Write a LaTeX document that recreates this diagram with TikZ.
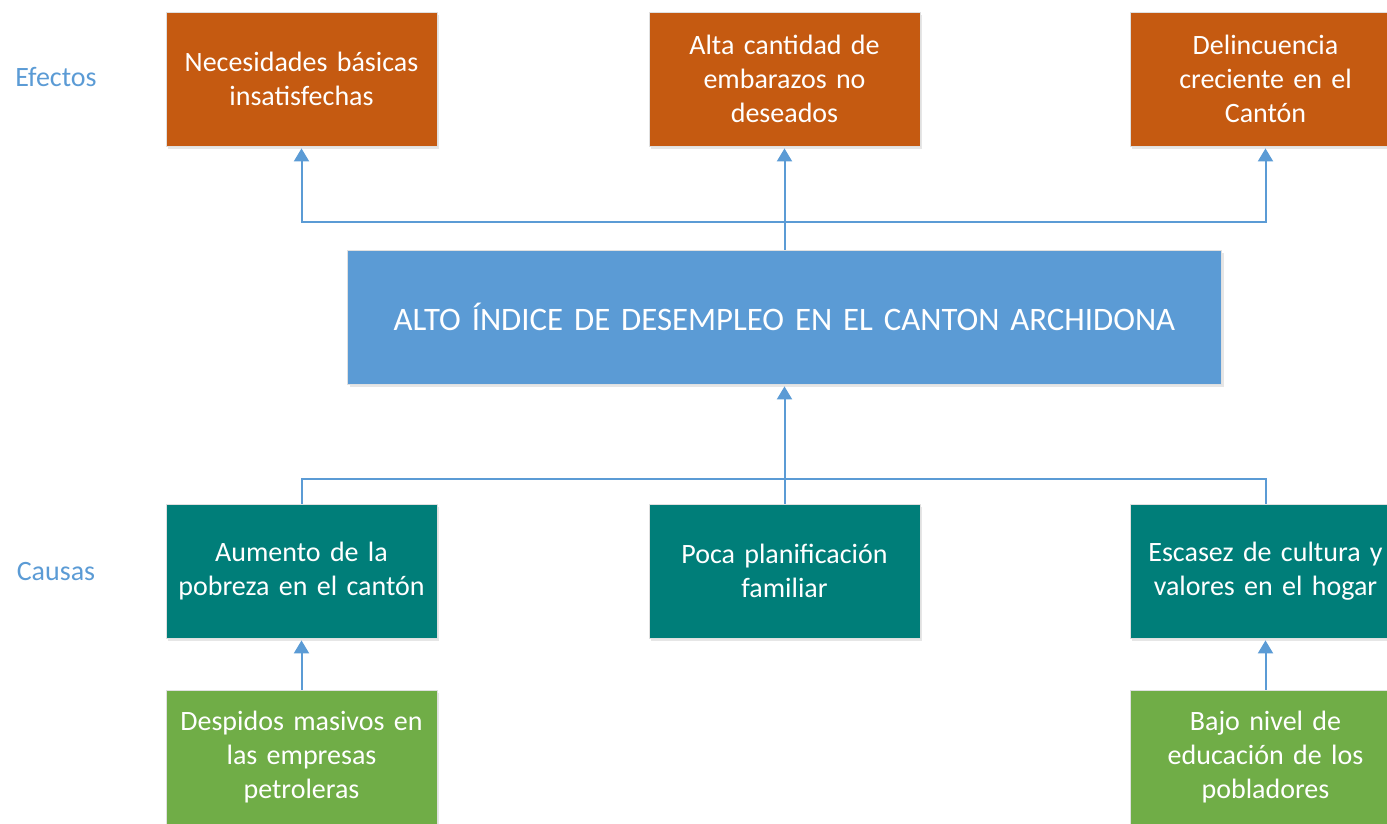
\documentclass[tikz,border=0pt]{standalone}
\usepackage{fontspec}
\setmainfont{Carlito}
\usetikzlibrary{arrows.meta,positioning,shadows}
\definecolor{efecto}{HTML}{C55A11}
\definecolor{nucleo}{HTML}{5B9BD5}
\definecolor{causa}{HTML}{007E79}
\definecolor{raiz}{HTML}{70AD47}
\definecolor{rotulo}{HTML}{5B9BD5}

\begin{document}
\begin{tikzpicture}[x=0.5pt,y=-0.5pt,on grid,
box/.style={draw=black!12,text=white,minimum width=135.5pt,minimum height=67pt,inner xsep=1pt,text width=132pt,align=center,
  font=\fontsize{14pt}{17pt}\selectfont,drop shadow={opacity=0.2,shadow xshift=1pt,shadow yshift=-1.5pt}},
conn/.style={draw=nucleo,line width=1pt,-{Triangle[width=7.5pt,length=6.5pt]},shorten >=1pt},
wire/.style={draw=nucleo,line width=1pt},
tag/.style={text=rotulo,font=\fontsize{14pt}{16pt}\selectfont}]
\useasboundingbox (0,0) rectangle (1387,824);

\node[box,fill=nucleo,minimum width=437pt,text width=430pt,font=\fontsize{16.4pt}{19pt}\selectfont] (core) at (784.5,317) {ALTO ÍNDICE DE DESEMPLEO EN EL CANTON ARCHIDONA};

\node[box,fill=efecto] (eff2) [above=119pt of core]   {Alta cantidad de\\embarazos no\\deseados};
\node[box,fill=efecto] (eff1) [left=241.5pt of eff2]  {Necesidades básicas\\insatisfechas};
\node[box,fill=efecto] (eff3) [right=240.5pt of eff2] {Delincuencia\\creciente en el\\Cantón};

\node[box,fill=causa] (cau2) [below=127pt of core]   {Poca planificación\\familiar};
\node[box,fill=causa] (cau1) [left=241.5pt of cau2]  {Aumento de la\\pobreza en el cantón};
\node[box,fill=causa] (cau3) [right=240.5pt of cau2] {Escasez de cultura y\\valores en el hogar};

\node[box,fill=raiz] (sub1) [below=93pt of cau1] {Despidos masivos en\\las empresas\\petroleras};
\node[box,fill=raiz] (sub3) [below=93pt of cau3] {Bajo nivel de\\educación de los\\pobladores};

\node[tag] (efectos) at (56,77)  {Efectos};
\node[tag] (causas)  at (56,572) {Causas};

\coordinate (ej) at (784.5,222);
\coordinate (cj) at (784.5,479);

% efectos
\draw[conn] (core.north) -- (eff2.south);
\draw[conn] (ej) -| (eff1.south);
\draw[conn] (ej) -| (eff3.south);

% causas
\draw[wire] (cau1.north) -- (cau1.north |- cj) -- (cau3.north |- cj) -- (cau3.north);
\draw[conn] (cau2.north) -- (core.south);
\draw[conn] (sub1) -- (cau1);
\draw[conn] (sub3) -- (cau3);

\end{tikzpicture}
\end{document}
